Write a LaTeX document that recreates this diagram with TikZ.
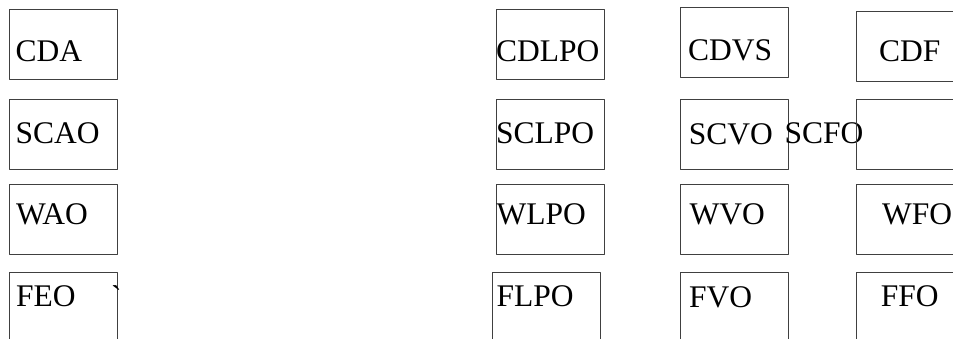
\documentclass[tikz,border=0pt]{standalone}
\usepackage{fontspec}
\setmainfont{Liberation Serif}
\begin{document}
\begin{tikzpicture}[x=1pt,y=-1pt,line join=round,
	o/.style={draw=black!75,line width=1pt,inner sep=0pt,outer sep=0pt,minimum width=\w pt,minimum height=\h pt,anchor=north west},
	chu/.style={inner sep=0pt,anchor=base west,font=\fontsize{31.5}{37}\selectfont}]
	%==Thông số ô
	\def\w{108}
	\def\h{70}
	%==============
	\useasboundingbox (0,0) rectangle (953,339);
	\clip (0,0) rectangle (953,339);
	%==Cột 1
	\node[o] (bCDA) at (9.5,9.5) {};
	\node[o] (bSCAO) at (9.5,99.5) {};
	\node[o] (bWAO) at (9.5,184.5) {};
	\node[o] (bFEO) at (9.5,272.5) {};
	\node[chu] (CDA) at (15.5,61.7) {CDA};
	\node[chu] (SCAO) at (15.5,144) {SCAO};
	\node[chu] (WAO) at (16,225) {WAO};
	\node[chu] (FEO) at (16,306.7) {FEO};
	\node[chu] (dau) at (111,307.5) {\textasciigrave};
	%==Cột 2
	\node[o] (bCDLPO) at (496.5,9.5) {};
	\node[o] (bSCLPO) at (496.5,99.5) {};
	\node[o] (bWLPO) at (496.5,184.5) {};
	\node[o] (bFLPO) at (492.5,272.5) {};
	\node[chu] (CDLPO) at (496,61.7) {CDLPO};
	\node[chu] (SCLPO) at (496,144) {SCLPO};
	\node[chu] (WLPO) at (496.5,225) {WLPO};
	\node[chu] (FLPO) at (496.3,306.7) {FLPO};
	%==Cột 3
	\node[o] (bCDVS) at (680.5,7.5) {};
	\node[o] (bSCVO) at (680.5,99.5) {};
	\node[o] (bWVO) at (680.5,184.5) {};
	\node[o] (bFVO) at (680.5,272.5) {};
	\node[chu] (CDVS) at (688,61) {CDVS};
	\node[chu] (SCVO) at (688.7,145) {SCVO};
	\node[chu] (WVO) at (689.5,225) {WVO};
	\node[chu] (FVO) at (689,307.7) {FVO};
	\node[chu] (SCFO) at (784.5,144) {SCFO};
	%==Cột 4
	\node[o] (bCDF) at (856.5,12) {};
	\node[o] (b42) at (856.5,99.5) {};
	\node[o] (bWFO) at (856.5,184.5) {};
	\node[o] (bFFO) at (856.5,272.5) {};
	\node[chu] (CDF) at (879,61.7) {CDF};
	\node[chu] (WFO) at (882,225) {WFO};
	\node[chu] (FFO) at (880.6,306.7) {FFO};
\end{tikzpicture}
\end{document}
